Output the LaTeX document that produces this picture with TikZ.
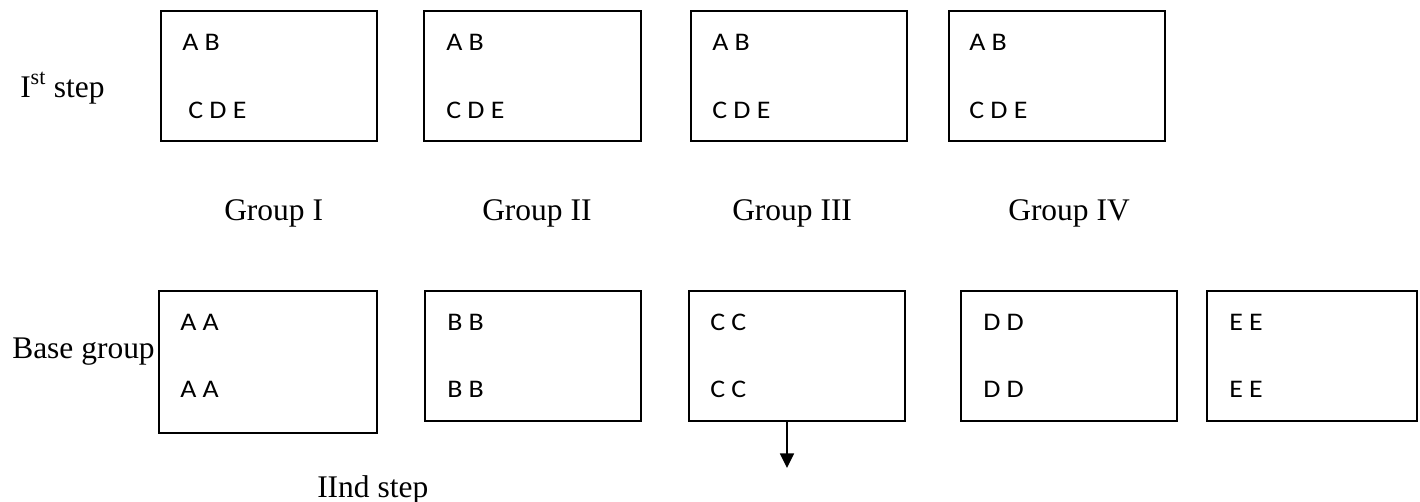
\documentclass[tikz,border=0pt]{standalone}
\usepackage{fontspec}
\setmainfont{Liberation Serif}
\newfontfamily\boxfont{Carlito}[FakeStretch=1.1]
\usetikzlibrary{fit,arrows.meta}
\begin{document}
\begin{tikzpicture}[x=0.75pt,y=-0.75pt,
  grpbox/.style={draw,line width=1.9pt,inner sep=0pt},
  entry/.style={anchor=base west,inner sep=0pt,font=\boxfont\fontsize{19}{22}\selectfont},
  label/.style={anchor=base west,inner sep=0pt,font=\fontsize{23.6}{28}\selectfont},
  flow/.style={line width=1.3pt,-{Triangle[length=11pt,width=10.5pt]}}]
\useasboundingbox (0,0) rectangle (1420,501);

% first step: four groups
\node[grpbox,fit={(161,11) (377,141)}] (t1) {};
\node[grpbox,fit={(424,11) (641,141)}] (t2) {};
\node[grpbox,fit={(691,11) (907,141)}] (t3) {};
\node[grpbox,fit={(949,11) (1165,141)}] (t4) {};

\node[entry] (t1a) at (182,50) {A B};
\node[entry] (t1b) at (188,118) {C D E};
\node[entry] (t2a) at (446,50) {A B};
\node[entry] (t2b) at (446,118) {C D E};
\node[entry] (t3a) at (712,50) {A B};
\node[entry] (t3b) at (712,118) {C D E};
\node[entry] (t4a) at (969,50) {A B};
\node[entry] (t4b) at (969,118) {C D E};

\node[label] (step1) at (20,97) {I\textsuperscript{st} step};

\node[label] (g1) at (224,220) {Group I};
\node[label] (g2) at (482,220) {Group II};
\node[label] (g3) at (732,220) {Group III};
\node[label] (g4) at (1008,220) {Group IV};

% base groups
\node[grpbox,fit={(159,291) (377,433)}] (b1) {};
\node[grpbox,fit={(425,291) (641,421)}] (b2) {};
\node[grpbox,fit={(689,291) (905,421)}] (b3) {};
\node[grpbox,fit={(961,291) (1177,421)}] (b4) {};
\node[grpbox,fit={(1207,291) (1417,421)}] (b5) {};

\node[entry] (b1a) at (180,330) {A A};
\node[entry] (b1b) at (180,397) {A A};
\node[entry] (b2a) at (447,330) {B B};
\node[entry] (b2b) at (447,397) {B B};
\node[entry] (b3a) at (710,330) {C C};
\node[entry] (b3b) at (710,397) {C C};
\node[entry] (b4a) at (983,330) {D D};
\node[entry] (b4b) at (983,397) {D D};
\node[entry] (b5a) at (1229,330) {E E};
\node[entry] (b5b) at (1229,397) {E E};

\node[label] (base) at (12,358) {Base group};
\node[label] (step2) at (317,497) {IInd step};

\coordinate (down) at (787,468);
\draw[flow] (b3.south -| down) -- (down);
\end{tikzpicture}
\end{document}
